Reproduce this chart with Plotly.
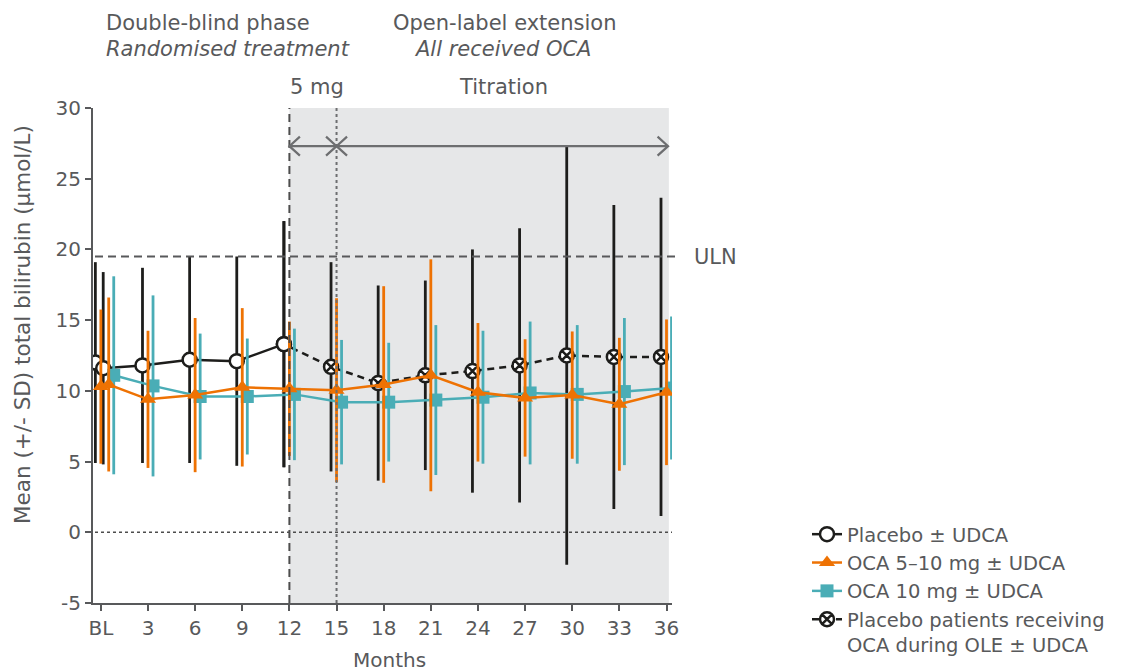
import plotly.graph_objects as go

# ---- data -------------------------------------------------------------
tick_months = [0, 3, 6, 9, 12, 15, 18, 21, 24, 27, 30, 33, 36]
tick_labels = ["BL", "3", "6", "9", "12", "15", "18", "21", "24", "27", "30", "33", "36"]
y_ticks = [-5, 0, 5, 10, 15, 20, 25, 30]
y_tick_labels = ["-5", "0", "5", "10", "15", "20", "25", "30"]

placebo_months = [0, 0.5, 3, 6, 9, 12]
placebo_mean = [12.0, 11.6, 11.8, 12.2, 12.1, 13.3]
placebo_sd = [7.1, 6.8, 6.9, 7.3, 7.4, 8.7]

ole_months = [15, 18, 21, 24, 27, 30, 33, 36]
ole_mean = [11.7, 10.55, 11.1, 11.4, 11.8, 12.5, 12.4, 12.4]
ole_sd = [7.4, 6.9, 6.7, 8.6, 9.7, 14.8, 10.75, 11.25]

oca510_months = [0, 0.5, 3, 6, 9, 12, 15, 18, 21, 24, 27, 30, 33, 36]
oca510_mean = [10.3, 10.45, 9.4, 9.7, 10.25, 10.15, 10.05, 10.45, 11.1, 9.9, 9.5, 9.7, 9.05, 9.9]
oca510_sd = [5.45, 6.15, 4.85, 5.45, 5.6, 4.75, 6.5, 6.95, 8.2, 4.9, 4.15, 4.5, 4.7, 5.15]

oca10_months = [0.5, 3, 6, 9, 12, 15, 18, 21, 24, 27, 30, 33, 36]
oca10_mean = [11.1, 10.35, 9.6, 9.6, 9.75, 9.2, 9.2, 9.35, 9.55, 9.85, 9.75, 9.95, 10.2]
oca10_sd = [7.0, 6.4, 4.45, 4.1, 4.65, 4.4, 4.2, 5.3, 4.7, 5.05, 4.9, 5.2, 5.05]

uln = 19.5
arrow_level = 27.3
ole_start, titration_start, study_end = 12, 15, 36

# ---- styling ----------------------------------------------------------
FONT = "DejaVu Sans"
TXT = "#58595b"
AX = "#58595b"
BLACK = "#1d1d1b"
ORANGE = "#ee7203"
TEAL = "#4aadb6"
SHADE = "#e6e7e8"

X_RANGE = [-0.5, 36.35]
Y_RANGE = [-5, 30]
L, R, T, B = 93, 461, 108, 69
W, H = 1133, 672
PW, PH = W - L - R, H - T - B

# horizontal nudges so the three groups sit side by side at each visit
SHIFT = {"placebo": -0.35, "oca510": 0.0, "oca10": 0.32}


def px_x(px):
    return (px - L) / PW


def px_y(py):
    return (H - B - py) / PH


def shifted(months, key):
    return [m + SHIFT[key] for m in months]


fig = go.Figure()

# shaded open-label period
fig.add_shape(type="rect", xref="x", yref="y", x0=ole_start, x1=study_end + 0.15,
              y0=Y_RANGE[0], y1=Y_RANGE[1], fillcolor=SHADE, line_width=0, layer="below")

# placebo patients switched to OCA in the OLE (joined to the last placebo visit)
ole_x = shifted([placebo_months[-1]] + ole_months, "placebo")[::-1]
ole_y = ([placebo_mean[-1]] + ole_mean)[::-1]
ole_e = ([placebo_sd[-1]] + ole_sd)[::-1]
fig.add_trace(go.Scatter(
    x=ole_x, y=ole_y, mode="lines+markers",
    name="Placebo patients receiving<br>OCA during OLE ± UDCA",
    line=dict(color=BLACK, width=2.5, dash="7px,5px"),
    marker=dict(symbol="circle-x", size=14, color="white", line=dict(color=BLACK, width=2.5)),
    error_y=dict(type="data", array=ole_e, thickness=2.8, width=0, color=BLACK),
    legendrank=4,
))

fig.add_trace(go.Scatter(
    x=shifted(placebo_months, "placebo"), y=placebo_mean, mode="lines+markers",
    name="Placebo ± UDCA",
    line=dict(color=BLACK, width=2.5),
    marker=dict(symbol="circle", size=14, color="white", line=dict(color=BLACK, width=2.5)),
    error_y=dict(type="data", array=placebo_sd, thickness=2.8, width=0, color=BLACK),
    legendrank=1,
))

fig.add_trace(go.Scatter(
    x=shifted(oca10_months, "oca10"), y=oca10_mean, mode="lines+markers",
    name="OCA 10 mg ± UDCA",
    line=dict(color=TEAL, width=2.5),
    marker=dict(symbol="square", size=13, color=TEAL),
    error_y=dict(type="data", array=oca10_sd, thickness=2.8, width=0, color=TEAL),
    legendrank=3,
))

fig.add_trace(go.Scatter(
    x=shifted(oca510_months, "oca510"), y=oca510_mean, mode="lines+markers",
    name="OCA 5–10 mg ± UDCA",
    line=dict(color=ORANGE, width=2.5),
    marker=dict(symbol="triangle-up", size=14, color=ORANGE),
    error_y=dict(type="data", array=oca510_sd, thickness=2.8, width=0, color=ORANGE),
    legendrank=2,
))

# reference lines
fig.add_shape(type="line", xref="x", yref="y", x0=ole_start, x1=ole_start,
              y0=Y_RANGE[0], y1=Y_RANGE[1], line=dict(color="#4d4d4d", width=2, dash="8px,5px"))
fig.add_shape(type="line", xref="x", yref="y", x0=titration_start, x1=titration_start,
              y0=Y_RANGE[0], y1=Y_RANGE[1], line=dict(color="#6d6e70", width=2, dash="dot"))
fig.add_shape(type="line", xref="paper", yref="y", x0=px_x(95), x1=px_x(679),
              y0=uln, y1=uln, line=dict(color="#58595b", width=2, dash="8px,5px"))
fig.add_shape(type="line", xref="paper", yref="y", x0=px_x(95), x1=1,
              y0=0, y1=0, line=dict(color="#4d4d4d", width=1.6, dash="dot"))

# phase arrows
ARROW = dict(color="#6d6e70", width=2.2)
fig.add_shape(type="line", xref="x", yref="y", x0=ole_start, x1=study_end + 0.1,
              y0=arrow_level, y1=arrow_level, line=ARROW)


def chevron(xm, direction):
    # open arrow head drawn in pixels around the tip
    dx = 10.5 * direction
    fig.add_shape(type="path", xref="x", yref="y", xsizemode="pixel", ysizemode="pixel",
                  xanchor=xm, yanchor=arrow_level,
                  path=f"M {-dx},9.5 L 0,0 L {-dx},-9.5", line=ARROW)


chevron(ole_start, -1)
chevron(titration_start, 1)
chevron(titration_start, -1)
chevron(study_end + 0.1, 1)

# ---- text -------------------------------------------------------------
def label(text, px, py, size=21, italic=False, xanchor="center", angle=0):
    fig.add_annotation(text=text, xref="paper", yref="paper", x=px_x(px), y=px_y(py),
                       xanchor=xanchor, yanchor="middle", showarrow=False, textangle=angle,
                       font=dict(family=FONT, size=size, color=TXT,
                                 style="italic" if italic else "normal"))


label("Double-blind phase", 104, 23, xanchor="left")
label("Randomised treatment", 104, 49, italic=True, xanchor="left")
label("Open-label extension", 505, 23)
label("All received OCA", 502, 49, italic=True)
label("5 mg", 317, 87)
label("Titration", 503, 87)
label("ULN", 692, 257, xanchor="left")
label("Months", 389, 660, size=20)
label("Mean (+/- SD) total bilirubin (µmol/L)", 22, 325, size=21.5, angle=-90)

fig.update_layout(
    width=W, height=H, margin=dict(l=L, r=R, t=T, b=B, autoexpand=False),
    paper_bgcolor="white", plot_bgcolor="white",
    font=dict(family=FONT, size=20, color=TXT),
    showlegend=True,
    legend=dict(x=px_x(807), y=px_y(515), xanchor="left", yanchor="top",
                font=dict(family=FONT, size=19.5, color=TXT), valign="top",
                tracegroupgap=0, bgcolor="rgba(0,0,0,0)", itemwidth=30),
    xaxis=dict(range=X_RANGE, tickvals=tick_months, ticktext=tick_labels,
               showgrid=False, zeroline=False, showline=True, linecolor=AX, linewidth=2,
               ticks="outside", ticklen=6, tickwidth=2, tickcolor=AX,
               tickfont=dict(family=FONT, size=20, color=TXT)),
    yaxis=dict(range=Y_RANGE, tickvals=y_ticks, ticktext=y_tick_labels,
               showgrid=False, zeroline=False, showline=True, linecolor=AX, linewidth=2,
               ticks="outside", ticklen=6, tickwidth=2, tickcolor=AX,
               tickfont=dict(family=FONT, size=20, color=TXT)),
)

fig.write_html("out.html")
